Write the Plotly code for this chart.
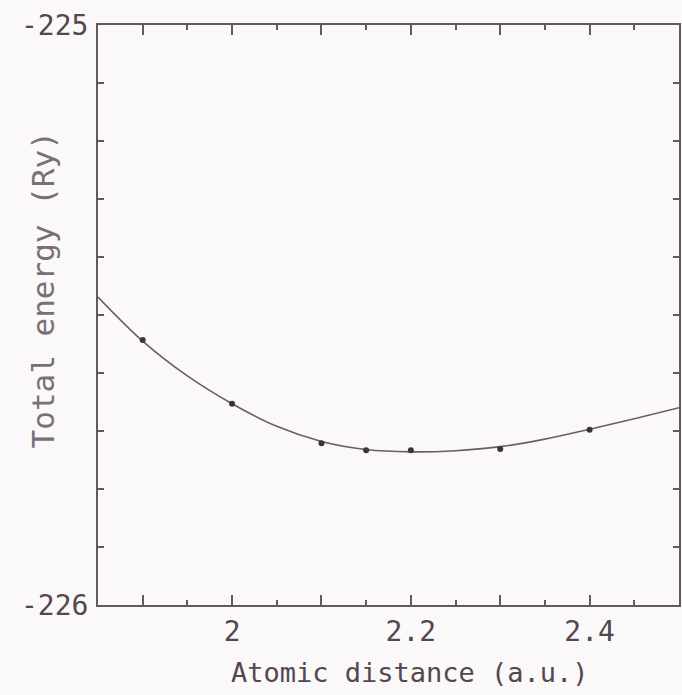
import plotly.graph_objects as go

# Data points (atomic distance, total energy)
dist_pts = [1.9, 2.0, 2.1, 2.15, 2.2, 2.3, 2.4]
energy_pts = [-225.543, -225.653, -225.721, -225.733, -225.733, -225.731, -225.698]

# Fitted curve samples
dist_curve = [1.85, 1.9, 1.95, 2.0, 2.05, 2.1, 2.15, 2.2, 2.25, 2.3, 2.35, 2.4, 2.45, 2.5]
energy_curve = [-225.469, -225.545, -225.605, -225.653, -225.692, -225.718, -225.732,
                -225.736, -225.734, -225.727, -225.714, -225.697, -225.679, -225.660]

x_tickvals = [1.9, 2.0, 2.1, 2.2, 2.3, 2.4]
x_ticktext = ["", "2", "", "2.2", "", "2.4"]
y_tickvals = [-226, -225.9, -225.8, -225.7, -225.6, -225.5, -225.4, -225.3, -225.2, -225.1, -225]
y_ticktext = ["-226", "", "", "", "", "", "", "", "", "", "-225"]

axis_col = "#66585f"
text_col = "#54474d"
font_mono = "DejaVu Sans Mono"

fig = go.Figure()
fig.add_trace(go.Scatter(x=dist_curve, y=energy_curve, mode="lines",
                         line=dict(color="#6e5c64", width=1.6, shape="spline", smoothing=1.0),
                         hoverinfo="skip", showlegend=False))
fig.add_trace(go.Scatter(x=dist_pts, y=energy_pts, mode="markers",
                         marker=dict(color="#3f3338", size=6),
                         showlegend=False))

fig.update_layout(
    width=682, height=695,
    margin=dict(l=98, r=1, t=25, b=90),
    paper_bgcolor="#fbf8fa", plot_bgcolor="#fbf8fa",
    font=dict(family=font_mono, color=text_col, size=27),
    xaxis=dict(range=[1.85, 2.5], tickmode="array", tickvals=x_tickvals, ticktext=x_ticktext,
               ticks="inside", ticklen=10, tickwidth=2, tickcolor=axis_col,
               showline=True, linecolor=axis_col, linewidth=2, mirror="ticks",
               showgrid=False, zeroline=False,
               tickfont=dict(family=font_mono, size=28, color=text_col),
               minor=dict(tickmode="linear", tick0=1.85, dtick=0.05, ticks="inside",
                          ticklen=5, tickwidth=2, tickcolor=axis_col, showgrid=False)),
    yaxis=dict(range=[-226, -225], tickmode="array", tickvals=y_tickvals, ticktext=y_ticktext,
               ticks="inside", ticklen=6, tickwidth=2, tickcolor=axis_col,
               showline=True, linecolor=axis_col, linewidth=2, mirror="ticks",
               showgrid=False, zeroline=False, ticklabelstandoff=2,
               tickfont=dict(family=font_mono, size=28, color=text_col)),
    annotations=[
        dict(text="Atomic distance (a.u.)", xref="paper", yref="paper",
             x=0.537, y=-0.117, xanchor="center", yanchor="middle", showarrow=False,
             font=dict(family=font_mono, size=27, color=text_col)),
        dict(text="Total energy (Ry)", xref="paper", yref="paper",
             x=-0.094, y=0.543, xanchor="center", yanchor="middle", showarrow=False,
             textangle=-90,
             font=dict(family=font_mono, size=31, color="#7a6f75")),
    ],
)

fig.write_html("out.html")
